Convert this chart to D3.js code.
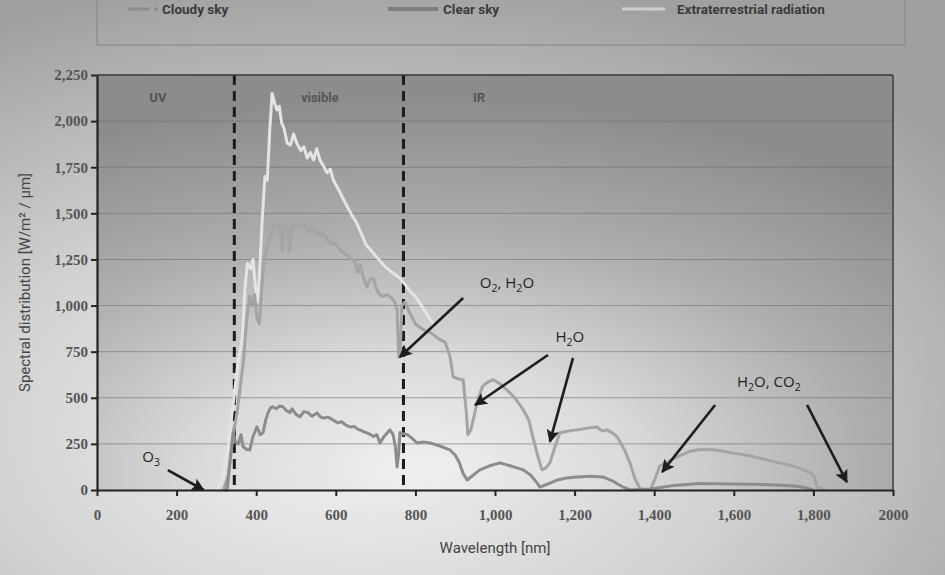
<!DOCTYPE html>
<html>
<head>
<meta charset="utf-8">
<script src="https://cdn.jsdelivr.net/npm/d3@7"></script>
<style>
    body { margin: 0; background: #b4b4b4; }
    svg { display: block; }
</style>
</head>
<body>
<svg id="chart" width="945" height="575"></svg>
<script>
// wavelength [nm], spectral distribution [W/m2/um]
const extraterrestrial = [
    [300, 0], [315, 60], [330, 250], [345, 520], [355, 700], [365, 820], [372, 1100], [378, 1230],
    [386, 1200], [392, 1250], [398, 1100], [404, 1020], [410, 1250], [416, 1500], [422, 1700],
    [428, 1680], [434, 1950], [440, 2150], [446, 2100], [452, 2060], [458, 2080], [464, 1990],
    [470, 1960], [478, 1880], [486, 1870], [494, 1930], [502, 1880], [512, 1840], [520, 1860],
    [528, 1800], [536, 1830], [544, 1790], [552, 1850], [560, 1790], [568, 1760], [578, 1720],
    [586, 1740], [594, 1680], [604, 1640], [616, 1590], [628, 1540], [640, 1490], [652, 1450],
    [664, 1390], [676, 1330], [688, 1300], [700, 1270], [712, 1240], [724, 1210], [736, 1190],
    [748, 1170], [760, 1150], [772, 1120], [786, 1080], [800, 1050], [815, 1000], [830, 950], [845, 900]
];

const clearSky = [
    [318, 0], [330, 80], [342, 300], [352, 420], [360, 560], [368, 700], [376, 920], [384, 1050],
    [390, 1000], [396, 1060], [402, 930], [408, 900], [414, 1100], [420, 1250], [428, 1330],
    [436, 1380], [444, 1430], [452, 1450], [460, 1420], [466, 1300], [470, 1420], [478, 1440],
    [484, 1290], [490, 1430], [500, 1440], [510, 1420], [520, 1440], [530, 1400], [540, 1420],
    [550, 1400], [560, 1380], [570, 1390], [580, 1350], [590, 1340], [600, 1330], [612, 1300],
    [624, 1280], [636, 1260], [648, 1240], [656, 1180], [662, 1220], [670, 1150], [678, 1100],
    [686, 1140], [694, 1150], [702, 1090], [710, 1060], [720, 1050], [730, 1060], [740, 1040],
    [748, 1020], [754, 980], [758, 720], [762, 760], [766, 1000], [774, 1020], [786, 960],
    [800, 900], [819, 870], [840, 850], [862, 815], [875, 800], [887, 723], [895, 614], [910, 600],
    [920, 598], [928, 420], [932, 299], [940, 330], [955, 473], [968, 560], [980, 582], [995, 598],
    [1010, 580], [1030, 543], [1050, 500], [1071, 435], [1085, 380], [1095, 288], [1108, 180],
    [1118, 109], [1128, 120], [1138, 147], [1150, 230], [1163, 310], [1185, 320], [1206, 326],
    [1230, 335], [1256, 342], [1270, 320], [1281, 326], [1295, 310], [1307, 288], [1325, 220],
    [1339, 147], [1352, 60], [1365, 5], [1390, 0], [1402, 60], [1414, 130], [1440, 160],
    [1465, 186], [1490, 210], [1515, 220], [1540, 218], [1558, 215], [1600, 200], [1640, 186],
    [1700, 154], [1740, 135], [1766, 117], [1790, 95], [1800, 80], [1810, 16], [1830, 0]
];

const cloudySky = [
    [320, 0], [327, 0], [334, 150], [342, 310], [348, 260], [355, 250], [362, 300], [367, 234],
    [376, 220], [384, 217], [392, 290], [402, 342], [410, 300], [417, 310], [424, 380], [430, 420],
    [436, 445], [442, 451], [450, 440], [458, 455], [467, 451], [476, 430], [485, 420], [490, 440],
    [500, 410], [510, 397], [520, 425], [530, 420], [540, 400], [553, 418], [562, 395], [570, 390],
    [580, 395], [593, 380], [604, 365], [615, 370], [626, 350], [636, 342], [646, 345], [655, 330],
    [666, 320], [678, 310], [688, 300], [695, 290], [703, 300], [711, 255], [718, 280], [725, 300],
    [736, 326], [744, 300], [750, 230], [754, 125], [758, 200], [761, 310], [770, 305], [780, 300],
    [792, 280], [804, 255], [820, 260], [837, 255], [860, 240], [887, 217], [900, 190], [910, 150],
    [920, 90], [930, 54], [945, 80], [962, 109], [985, 130], [1013, 147], [1040, 130], [1071, 109],
    [1090, 80], [1105, 40], [1113, 16], [1130, 30], [1156, 54], [1180, 65], [1206, 71], [1240, 75],
    [1271, 71], [1295, 50], [1310, 30], [1322, 16], [1340, 0], [1390, 5], [1420, 15], [1450, 25],
    [1515, 35], [1560, 34], [1600, 32], [1680, 30], [1730, 25], [1760, 20], [1780, 12], [1800, 0]
];

const seriesNames = ['Cloudy sky', 'Clear sky', 'Extraterrestrial radiation'];

const yTicks = [0, 250, 500, 750, 1000, 1250, 1500, 1750, 2000, 2250];
const yTickLabels = ['0', '250', '500', '750', '1,000', '1,250', '1,500', '1,750', '2,000', '2,250'];
const xTicks = [0, 200, 400, 600, 800, 1000, 1200, 1400, 1600, 1800, 2000];
const xTickLabels = ['0', '200', '400', '600', '800', '1,000', '1,200', '1,400', '1,600', '1,800', '2000'];

// band limits [nm] and band names
const bandLimits = [345, 770];
const bandNames = [['UV', 153], ['visible', 560], ['IR', 960]];

// absorption notes: [text parts, x nm, y value], arrows: [from nm, from value, to nm, to value]
const notes = [
    [['O', '2', ', H', '2', 'O'], 1030, 1095],
    [['H', '2', 'O'], 1188, 803],
    [['H', '2', 'O, CO', '2', ''], 1688, 560],
    [['O', '3', ''], 136, 152]
];
const arrows = [
    [920, 1041, 761, 721],
    [1133, 732, 950, 461],
    [1196, 716, 1138, 262],
    [1553, 461, 1420, 98],
    [1784, 461, 1884, 43],
    [178, 108, 268, 0]
];

const margin = { top: 75, right: 52, bottom: 85, left: 97 };
const W = 945, H = 575;
const width = W - margin.left - margin.right;
const height = H - margin.top - margin.bottom;

const svg = d3.select('#chart');
const defs = svg.append('defs');

const bg = defs.append('radialGradient').attr('id', 'bg')
    .attr('cx', '38%').attr('cy', '75%').attr('r', '80%');
bg.append('stop').attr('offset', 0).attr('stop-color', '#f3f3f3');
bg.append('stop').attr('offset', 0.5).attr('stop-color', '#d2d2d2');
bg.append('stop').attr('offset', 1).attr('stop-color', '#a0a0a0');

const pg = defs.append('radialGradient').attr('id', 'plotbg')
    .attr('cx', '40%').attr('cy', '95%').attr('r', '90%');
pg.append('stop').attr('offset', 0).attr('stop-color', '#f0f0f0');
pg.append('stop').attr('offset', 0.3).attr('stop-color', '#dadada');
pg.append('stop').attr('offset', 0.65).attr('stop-color', '#acacac');
pg.append('stop').attr('offset', 1).attr('stop-color', '#8c8c8c');

defs.append('marker').attr('id', 'head')
    .attr('viewBox', '0 0 10 10').attr('refX', 9).attr('refY', 5)
    .attr('markerWidth', 5).attr('markerHeight', 5).attr('orient', 'auto')
    .append('path').attr('d', 'M0,0 L10,5 L0,10 L2,5 Z').attr('fill', '#1e1e1e');

svg.append('rect').attr('width', W).attr('height', H).attr('fill', 'url(#bg)');

// legend strip
const legend = svg.append('g');
legend.append('rect')
    .attr('x', 97).attr('y', -4).attr('width', 808).attr('height', 49)
    .attr('fill', 'none').attr('stroke', '#8a8a8a').attr('stroke-width', 1.2);

const legendStyle = [
    { x1: 128, x2: 150, color: '#8c8c8c', width: 3, text: 162, dot: true },
    { x1: 388, x2: 438, color: '#7e7e7e', width: 4, text: 443 },
    { x1: 622, x2: 665, color: '#cfcfcf', width: 3, text: 677 }
];
legendStyle.forEach((s, i) => {
    legend.append('line')
        .attr('x1', s.x1).attr('x2', s.x2).attr('y1', 9).attr('y2', 9)
        .attr('stroke', s.color).attr('stroke-width', s.width);
    if (s.dot) {
        legend.append('line')
            .attr('x1', 154).attr('x2', 158).attr('y1', 9).attr('y2', 9)
            .attr('stroke', s.color).attr('stroke-width', s.width);
    }
    legend.append('text')
        .attr('x', s.text).attr('y', 14)
        .attr('font-family', 'Roboto, "Liberation Sans", sans-serif')
        .attr('font-weight', 'bold').attr('font-size', 13.5)
        .attr('fill', '#3a3a3a')
        .text(seriesNames[i]);
});

const g = svg.append('g').attr('transform', `translate(${margin.left},${margin.top})`);

const x = d3.scaleLinear().domain([0, 2000]).range([0, width]);
const y = d3.scaleLinear().domain([0, 2250]).range([height, 0]);

g.append('rect').attr('width', width).attr('height', height).attr('fill', 'url(#plotbg)');

// horizontal grid
g.append('g')
    .selectAll('line')
    .data(yTicks.slice(1))
    .enter()
    .append('line')
    .attr('x1', 0).attr('x2', width)
    .attr('y1', d => y(d)).attr('y2', d => y(d))
    .attr('stroke', '#6e6e6e').attr('stroke-width', 0.8).attr('opacity', 0.75);

// band separators
g.append('g')
    .selectAll('line')
    .data(bandLimits)
    .enter()
    .append('line')
    .attr('x1', d => x(d)).attr('x2', d => x(d))
    .attr('y1', 0).attr('y2', height)
    .attr('stroke', '#1c1c1c').attr('stroke-width', 3).attr('stroke-dasharray', '10,6');

g.append('g')
    .selectAll('text')
    .data(bandNames)
    .enter()
    .append('text')
    .attr('x', d => x(d[1])).attr('y', 27)
    .attr('text-anchor', 'middle')
    .attr('font-family', 'Roboto, "Liberation Sans", sans-serif')
    .attr('font-size', 13).attr('font-weight', 'bold')
    .attr('fill', '#555')
    .text(d => d[0]);

const line = d3.line().x(d => x(d[0])).y(d => y(d[1]));

g.append('path').datum(extraterrestrial).attr('d', line)
    .attr('fill', 'none').attr('stroke', '#e4e4e4').attr('stroke-width', 3).attr('stroke-linejoin', 'round');
g.append('path').datum(clearSky).attr('d', line)
    .attr('fill', 'none').attr('stroke', '#a4a4a4').attr('stroke-width', 3).attr('stroke-linejoin', 'round');
g.append('path').datum(cloudySky).attr('d', line)
    .attr('fill', 'none').attr('stroke', '#8c8c8c').attr('stroke-width', 3).attr('stroke-linejoin', 'round');

// frame
g.append('line').attr('x1', 0).attr('x2', width).attr('y1', 0).attr('y2', 0)
    .attr('stroke', '#3c3c3c').attr('stroke-width', 1.5);
g.append('line').attr('x1', width).attr('x2', width).attr('y1', 0).attr('y2', height)
    .attr('stroke', '#3c3c3c').attr('stroke-width', 1.5);

// axes
const yAxis = g.append('g')
    .call(d3.axisLeft(y).tickValues(yTicks).tickFormat((d, i) => yTickLabels[i]).tickSize(6).tickSizeOuter(0));
const xAxis = g.append('g').attr('transform', `translate(0,${height})`)
    .call(d3.axisBottom(x).tickValues(xTicks).tickFormat((d, i) => xTickLabels[i]).tickSize(6).tickSizeOuter(0));

[yAxis, xAxis].forEach(ax => {
    ax.select('.domain').attr('stroke', '#222').attr('stroke-width', 2.2);
    ax.selectAll('.tick line').attr('stroke', '#222').attr('stroke-width', 2);
    ax.selectAll('.tick text')
        .attr('font-family', '"Liberation Serif", "DejaVu Serif", serif')
        .attr('font-size', 15).attr('font-weight', 'bold')
        .attr('fill', '#555');
});
xAxis.selectAll('.tick text').attr('dy', '1.4em');

// titles
svg.append('text')
    .attr('transform', `translate(30,${margin.top + height / 2}) rotate(-90)`)
    .attr('text-anchor', 'middle')
    .attr('font-family', 'Roboto, "Liberation Sans", sans-serif')
    .attr('font-size', 15).attr('fill', '#444')
    .text('Spectral distribution  [W/m² / µm]');

svg.append('text')
    .attr('x', margin.left + width / 2).attr('y', 553)
    .attr('text-anchor', 'middle')
    .attr('font-family', 'Roboto, "Liberation Sans", sans-serif')
    .attr('font-size', 15).attr('fill', '#444')
    .text('Wavelength [nm]');

// absorption arrows and notes
g.append('g')
    .selectAll('line')
    .data(arrows)
    .enter()
    .append('line')
    .attr('x1', d => x(d[0])).attr('y1', d => y(d[1]))
    .attr('x2', d => x(d[2])).attr('y2', d => y(d[3]))
    .attr('stroke', '#1e1e1e').attr('stroke-width', 2.6)
    .attr('marker-end', 'url(#head)');

notes.forEach(n => {
    const t = g.append('text')
        .attr('x', x(n[1])).attr('y', y(n[2]))
        .attr('text-anchor', 'middle')
        .attr('font-family', '"Open Sans", "Liberation Sans", sans-serif')
        .attr('font-size', 15).attr('fill', '#222');
    n[0].forEach((part, i) => {
        const sub = i % 2 === 1;
        t.append('tspan')
            .attr('font-size', sub ? 10.5 : 15)
            .attr('dy', sub ? 4 : (i > 0 ? -4 : 0))
            .text(part);
    });
});
</script>
</body>
</html>
